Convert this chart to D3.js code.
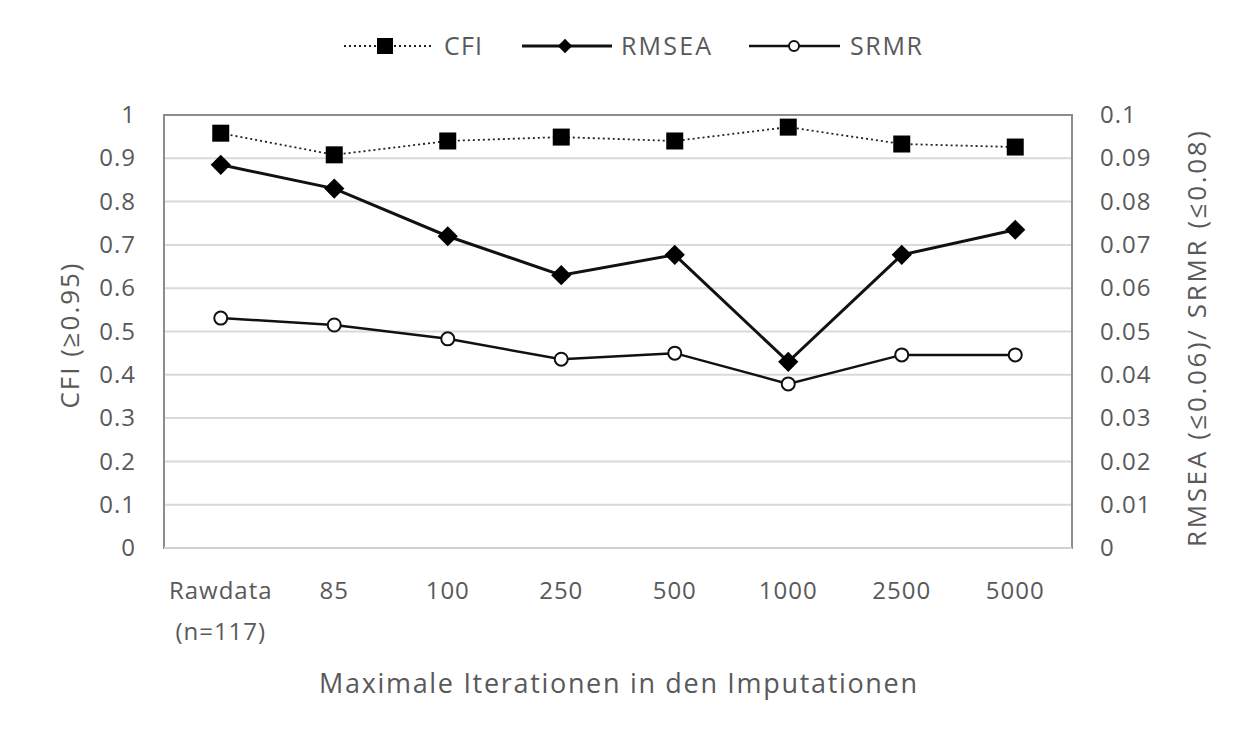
<!DOCTYPE html>
<html>
<head>
<meta charset="utf-8">
<script src="https://cdn.jsdelivr.net/npm/d3@7"></script>
<style>
  body { margin: 0; background: #fff; }
  text { font-family: "Open Sans", Lato, sans-serif; fill: #595959; }
</style>
</head>
<body>
<script>
// data
const categories = ["Rawdata|(n=117)", "85", "100", "250", "500", "1000", "2500", "5000"];
const cfi   = [0.958, 0.908, 0.940, 0.949, 0.940, 0.972, 0.933, 0.926];
const rmsea = [0.0885, 0.083, 0.072, 0.063, 0.0677, 0.043, 0.0677, 0.0735];
const srmr  = [0.0531, 0.0515, 0.0483, 0.0436, 0.0450, 0.0379, 0.0446, 0.0446];
const leftTicks  = [0, 0.1, 0.2, 0.3, 0.4, 0.5, 0.6, 0.7, 0.8, 0.9, 1];
const rightTicks = [0, 0.01, 0.02, 0.03, 0.04, 0.05, 0.06, 0.07, 0.08, 0.09, 0.1];

const W = 1253, H = 743;
const margin = {top: 115, right: 181, bottom: 195, left: 164},
      width = W - margin.left - margin.right,
      height = H - margin.top - margin.bottom;

const svg = d3.select("body").append("svg")
    .attr("width", W)
    .attr("height", H);

const g = svg.append("g")
    .attr("transform", `translate(${margin.left},${margin.top})`);

// scales
const x = d3.scaleBand().domain(categories).range([0, width]);
const yL = d3.scaleLinear().domain([0, 1]).range([height, 0]);
const yR = d3.scaleLinear().domain([0, 0.1]).range([height, 0]);
const cx = d => x(d) + x.bandwidth() / 2;

// gridlines
g.append("g")
  .selectAll("line")
  .data(leftTicks)
  .join("line")
    .attr("x1", 0).attr("x2", width)
    .attr("y1", d => yL(d)).attr("y2", d => yL(d))
    .attr("stroke", "#d9d9d9")
    .attr("stroke-width", 2);

// plot box
g.append("rect")
    .attr("width", width).attr("height", height)
    .attr("fill", "none")
    .attr("stroke", "#8c8c8c")
    .attr("stroke-width", 2);
g.append("line")
    .attr("x1", 0).attr("x2", width)
    .attr("y1", height).attr("y2", height)
    .attr("stroke", "#d0d0d0").attr("stroke-width", 2);

// axes
const left = g.append("g")
    .call(d3.axisLeft(yL).tickValues(leftTicks).tickFormat(d3.format("")).tickSize(0).tickPadding(28));
const right = g.append("g")
    .attr("transform", `translate(${width},0)`)
    .call(d3.axisRight(yR).tickValues(rightTicks).tickFormat(d3.format("")).tickSize(0).tickPadding(28));
[left, right].forEach(a => {
  a.select(".domain").remove();
  a.selectAll("text")
    .style("font-size", "24px")
    .style("letter-spacing", "1px")
    .style("fill", "#595959");
});

const bottom = g.append("g")
    .attr("transform", `translate(0,${height})`)
    .call(d3.axisBottom(x).tickSize(0).tickFormat(""));
bottom.select(".domain").remove();
bottom.selectAll(".tick").each(function(d) {
  const t = d3.select(this).append("text")
      .attr("text-anchor", "middle")
      .style("font-size", "24px")
      .style("letter-spacing", "1px");
  d.split("|").forEach((s, i) => {
    t.append("tspan").attr("x", 0).attr("y", 51 + i * 41).text(s);
  });
});

// axis titles
svg.append("text")
    .attr("transform", `translate(79,336) rotate(-90)`)
    .attr("text-anchor", "middle")
    .attr("textLength", 145).attr("lengthAdjust", "spacing")
    .style("font-size", "26px")
    .text("CFI (≥0.95)");
svg.append("text")
    .attr("transform", `translate(1206,339) rotate(-90)`)
    .attr("text-anchor", "middle")
    .attr("textLength", 416).attr("lengthAdjust", "spacing")
    .style("font-size", "26px")
    .text("RMSEA (≤0.06)/ SRMR (≤0.08)");
svg.append("text")
    .attr("x", 618)
    .attr("y", 693)
    .attr("text-anchor", "middle")
    .attr("textLength", 598).attr("lengthAdjust", "spacing")
    .style("font-size", "27px")
    .text("Maximale Iterationen in den Imputationen");

// lines
const line = (yScale) => d3.line()
    .x((d, i) => cx(categories[i]))
    .y(d => yScale(d));

g.append("path").datum(cfi)
    .attr("d", line(yL))
    .attr("fill", "none").attr("stroke", "#222")
    .attr("stroke-width", 1.8).attr("stroke-dasharray", "2,3");
g.append("path").datum(rmsea)
    .attr("d", line(yR))
    .attr("fill", "none").attr("stroke", "#111").attr("stroke-width", 3);
g.append("path").datum(srmr)
    .attr("d", line(yR))
    .attr("fill", "none").attr("stroke", "#111").attr("stroke-width", 2.5);

// markers
g.selectAll(".sq").data(cfi).join("rect")
    .attr("x", (d, i) => cx(categories[i]) - 8.5)
    .attr("y", d => yL(d) - 8.5)
    .attr("width", 17).attr("height", 17)
    .attr("fill", "#000");
const diamond = d3.symbol().type(d3.symbolDiamond2).size(260);
g.selectAll(".dm").data(rmsea).join("path")
    .attr("transform", (d, i) => `translate(${cx(categories[i])},${yR(d)})`)
    .attr("d", diamond)
    .attr("fill", "#000");
g.selectAll(".ci").data(srmr).join("circle")
    .attr("cx", (d, i) => cx(categories[i]))
    .attr("cy", d => yR(d))
    .attr("r", 6.5)
    .attr("fill", "#fff").attr("stroke", "#111").attr("stroke-width", 2);

// legend
const legY = 46;
const lg = svg.append("g");
lg.append("line").attr("x1", 344).attr("x2", 432).attr("y1", legY).attr("y2", legY)
    .attr("stroke", "#222").attr("stroke-width", 1.8).attr("stroke-dasharray", "2,3");
lg.append("rect").attr("x", 377).attr("y", legY - 8).attr("width", 16).attr("height", 16).attr("fill", "#000");
lg.append("text").attr("x", 444).attr("y", legY + 9)
    .attr("textLength", 38).attr("lengthAdjust", "spacing")
    .style("font-size", "25px").text("CFI");

lg.append("line").attr("x1", 522).attr("x2", 612).attr("y1", legY).attr("y2", legY)
    .attr("stroke", "#111").attr("stroke-width", 3);
lg.append("path").attr("transform", `translate(565,${legY})`)
    .attr("d", d3.symbol().type(d3.symbolDiamond2).size(130)).attr("fill", "#000");
lg.append("text").attr("x", 621).attr("y", legY + 9)
    .attr("textLength", 90).attr("lengthAdjust", "spacing")
    .style("font-size", "25px").text("RMSEA");

lg.append("line").attr("x1", 749).attr("x2", 840).attr("y1", legY).attr("y2", legY)
    .attr("stroke", "#111").attr("stroke-width", 2.5);
lg.append("circle").attr("cx", 794).attr("cy", legY).attr("r", 5)
    .attr("fill", "#fff").attr("stroke", "#111").attr("stroke-width", 2);
lg.append("text").attr("x", 850).attr("y", legY + 9)
    .attr("textLength", 72).attr("lengthAdjust", "spacing")
    .style("font-size", "25px").text("SRMR");
</script>
</body>
</html>
